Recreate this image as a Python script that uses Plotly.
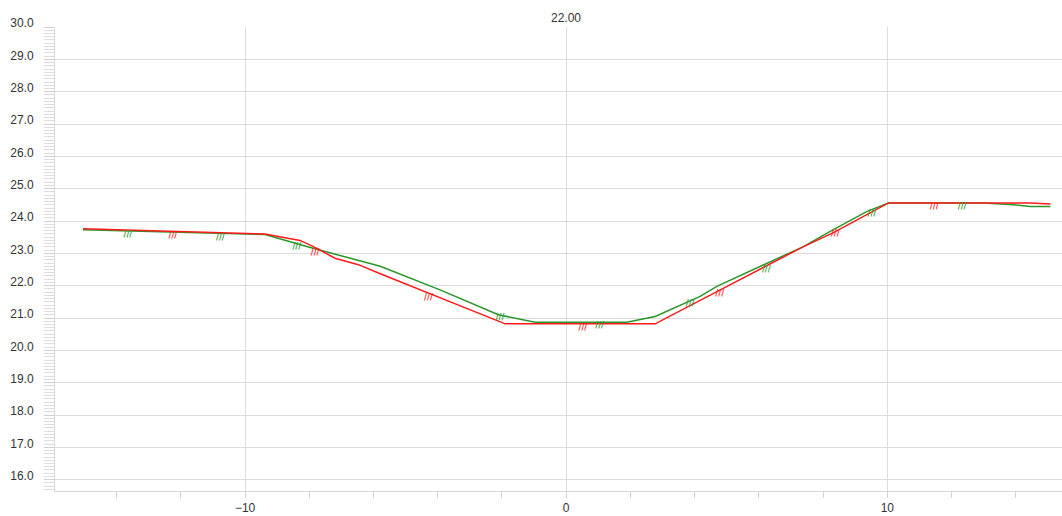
import plotly.graph_objects as go

# Section profile data (offset, elevation)
red_x = [-15.05, -9.38, -8.29, -7.87, -7.2, -6.47, -5.79, -4.55, -1.9, 2.77, 4.17, 4.8, 7.39, 8.32, 10.04, 14.45, 15.08]
red_y = [23.76, 23.60, 23.40, 23.21, 22.85, 22.65, 22.37, 21.87, 20.82, 20.82, 21.56, 21.87, 23.21, 23.64, 24.56, 24.56, 24.53]

green_x = [-15.05, -9.38, -8.08, -5.79, -3.93, -2.11, -0.97, 1.89, 2.77, 4.17, 4.69, 6.15, 7.39, 8.22, 9.37, 10.04, 13.0, 13.93, 14.45, 15.08]
green_y = [23.73, 23.58, 23.21, 22.60, 21.87, 21.10, 20.87, 20.87, 21.05, 21.67, 21.98, 22.65, 23.21, 23.68, 24.30, 24.56, 24.56, 24.50, 24.45, 24.45]

# hatch marks
red_hx = [-12.25, -7.82, -4.29, 0.52, 4.78, 8.38, 11.46]
red_hy = [23.54, 23.00, 21.63, 20.70, 21.73, 23.61, 24.43]
green_hx = [-13.65, -10.77, -8.39, -2.06, 1.04, 3.86, 6.23, 9.52, 12.33]
green_hy = [23.56, 23.46, 23.20, 20.99, 20.75, 21.42, 22.50, 24.21, 24.43]

title_text = "22.00"

RED = "#ff1a1a"
GREEN = "#2a962a"

fig = go.Figure()
fig.add_trace(go.Scatter(x=green_x, y=green_y, mode="lines", line=dict(color=GREEN, width=1.5), showlegend=False))
fig.add_trace(go.Scatter(x=red_x, y=red_y, mode="lines", line=dict(color=RED, width=1.5), showlegend=False))
fig.add_trace(go.Scatter(x=red_hx, y=red_hy, mode="text", text=["///"] * len(red_hx),
                         textposition="middle center",
                         textfont=dict(color=RED, size=8, family="DejaVu Sans", weight="bold"), showlegend=False))
fig.add_trace(go.Scatter(x=green_hx, y=green_hy, mode="text", text=["///"] * len(green_hx),
                         textposition="middle center",
                         textfont=dict(color=GREEN, size=8, family="DejaVu Sans", weight="bold"), showlegend=False))

fig.add_annotation(x=0, y=1, xref="x", yref="paper", yanchor="bottom", text=title_text,
                   showarrow=False, font=dict(size=12, color="#333333"), yshift=0)

fig.update_layout(
    width=1062, height=516,
    margin=dict(l=55, r=0, t=27, b=25),
    paper_bgcolor="white", plot_bgcolor="white",
    font=dict(family="Liberation Sans, Arial", size=12, color="#333333"),
    xaxis=dict(range=[-15.92, 15.44], dtick=10, tick0=0, showgrid=True, gridcolor="#dcdcdc",
               zeroline=False, showline=True, linecolor="#d8d8d8", linewidth=1,
               ticks="outside", ticklen=6, tickcolor="#d0d0d0",
               minor=dict(dtick=2, tick0=0, ticks="outside", ticklen=6, tickcolor="#d0d0d0", showgrid=False)),
    yaxis=dict(range=[15.65, 30.001], dtick=1, tick0=0, tickformat=".1f", showgrid=True, gridcolor="#dcdcdc",
               zeroline=False, showline=True, linecolor="#d8d8d8", linewidth=1,
               ticks="outside", ticklen=10, tickcolor="#d0d0d0", ticklabelstandoff=8, ticklabelshift=-4,
               minor=dict(dtick=0.1, ticks="outside", ticklen=10, tickcolor="#dddddd", showgrid=False)),
)

fig.write_html("out.html")
